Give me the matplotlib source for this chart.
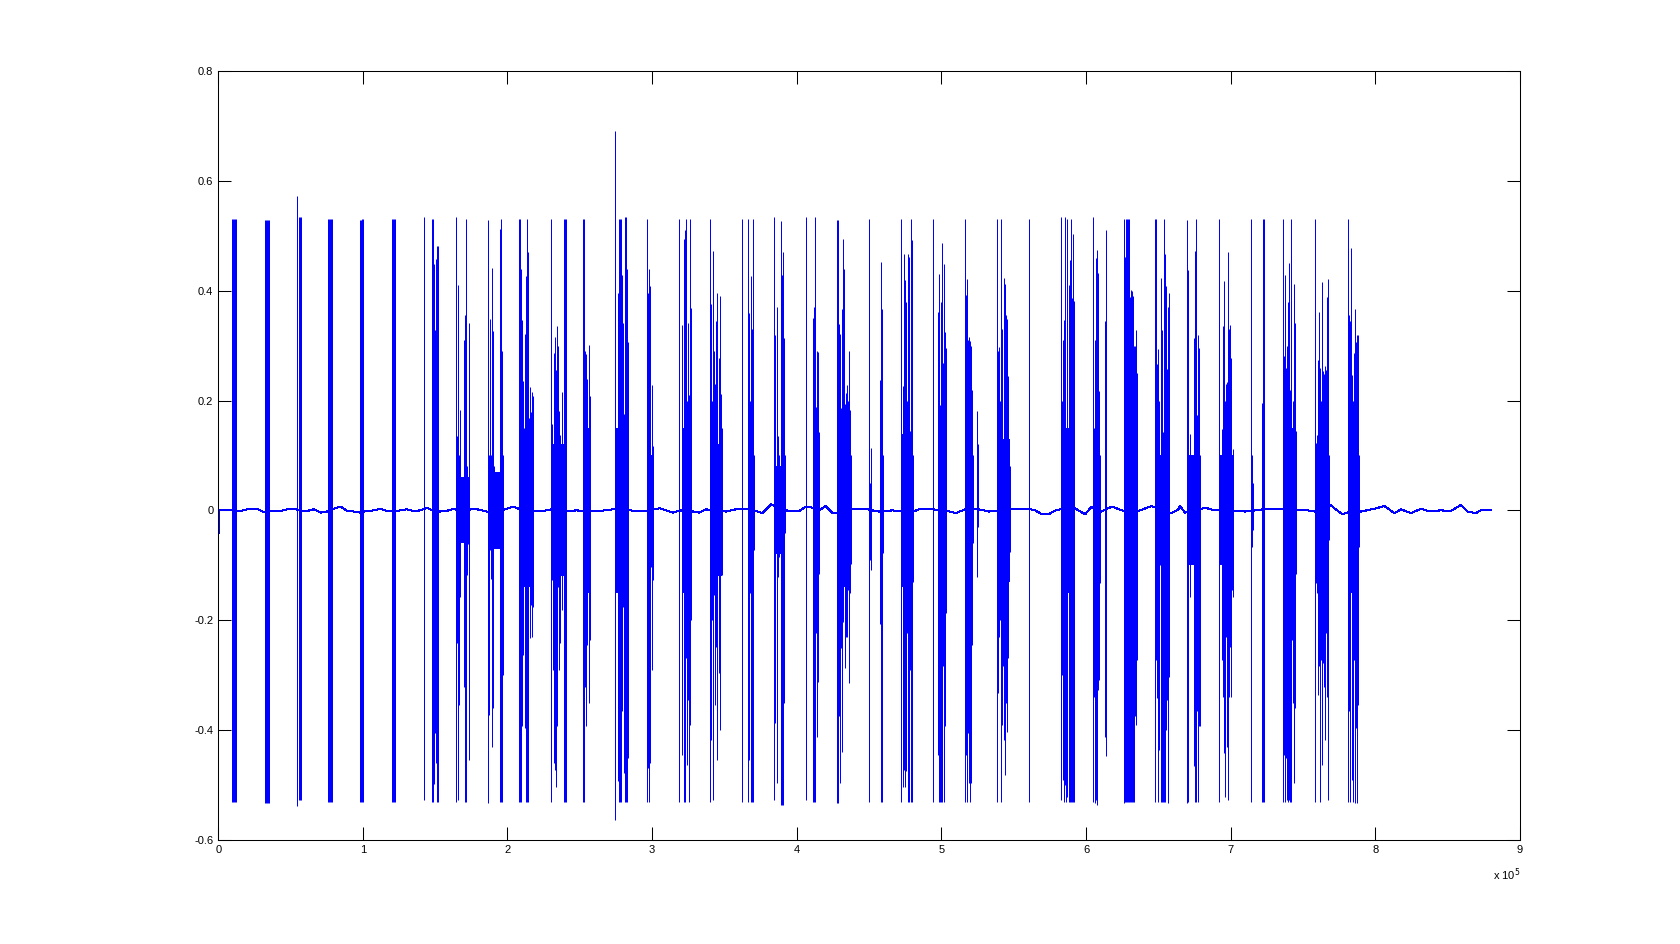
import matplotlib
matplotlib.use("Agg")
import matplotlib.pyplot as plt
import numpy as np

# szybkie uderzenia sygnalu: (probka, szczyt gorny, szczyt dolny), jeden wiersz na jeden wybuch
spikes = [
    (9800, .531, -.530), (10500, .531, -.530), (11200, .531, -.530), (11800, .531, -.530), (12500, .531, -.530),
    (32100, .529, -.533), (32800, .529, -.533), (33400, .529, -.533), (34100, .529, -.533), (34800, .529, -.533),
    (54200, .573, -.539), (54800, .534, -.528), (55500, .534, -.528), (56200, .534, -.528), (56900, .534, -.528),
    (76200, .531, -.530), (76900, .531, -.530), (77600, .531, -.530), (78300, .531, -.530), (79000, .531, -.530),
    (98300, .529, -.531), (99000, .529, -.531), (99700, .531, -.531), (100300, .531, -.531),
    (120400, .531, -.531), (121000, .531, -.531), (121700, .531, -.531), (122400, .531, -.531),
    (142400, .534, -.528),
    (147900, .530, -.531), (148600, .530, -.531), (149300, .448, -.498), (150000, .328, -.405),
    (150700, .457, -.459), (151400, .482, -.530), (152100, .482, -.530),
    (164500, .534, -.530), (165200, .135, -.242), (165900, .411, -.528), (166600, .10, -.354),
    (167200, .182, -.157), (170000, .311, -.322), (170700, .355, -.531), (171400, .530, -.531),
    (172100, .08, -.118), (172800, .06, -.062), (173500, .342, -.454),
    (186600, .528, -.533), (187200, .10, -.372), (187900, .348, -.072), (188600, .10, -.124),
    (189300, .442, -.430), (190000, .326, -.359), (190700, .08, -.045), (195100, .512, -.531),
    (195800, .530, -.531), (196400, .290, -.531), (197100, .10, -.300),
    (207900, .531, -.530), (208600, .531, -.530), (209300, .439, -.530), (210000, .346, -.393),
    (210700, .235, -.264), (211400, .15, -.072), (212100, .322, -.396), (212800, .426, -.530),
    (213400, .531, -.530), (214100, .470, -.530), (214800, .168, -.130), (215500, .224, -.233),
    (216200, .179, -.172), (216900, .215, -.230), (217600, .208, -.175),
    (230000, .531, -.530), (230700, .157, -.127), (231400, .12, -.290), (232100, .286, -.460),
    (232800, .315, -.472), (233400, .255, -.503), (234100, .335, -.393), (234800, .300, -.139),
    (235500, .181, -.290), (236200, .137, -.242), (236900, .10, -.030), (237600, .215, -.181),
    (238300, .120, -.042), (239000, .530, -.531), (239700, .530, -.531), (240300, .530, -.531),
    (252100, .530, -.531), (252800, .530, -.531), (253500, .291, -.322), (254100, .284, -.393),
    (254800, .240, -.245), (256200, .302, -.351), (256900, .208, -.236),
    (274100, .691, -.564), (276200, .395, -.493), (276900, .531, -.530), (277600, .531, -.530),
    (278300, .531, -.530), (279000, .428, -.366), (279700, .342, -.175), (280300, .175, -.478),
    (281000, .534, -.530), (281700, .534, -.530), (282400, .440, -.530), (283100, .306, -.451),
    (296200, .531, -.530), (296900, .395, -.469), (297600, .440, -.530), (298300, .408, -.460),
    (299000, .10, -.103), (299700, .228, -.290), (300300, .117, -.127),
    (318300, .531, -.530), (321000, .337, -.445), (321700, .495, -.531), (322400, .510, -.531),
    (323100, .531, -.269), (323800, .20, -.463), (324500, .342, -.345), (325100, .315, -.287),
    (325800, .210, -.530), (326500, .531, -.390), (327200, .368, -.20),
    (340300, .531, -.530), (341000, .375, -.418), (341700, .20, -.20), (342400, .473, -.528),
    (343100, .290, -.154), (343800, .230, -.354), (344500, .344, -.248), (345200, .395, -.454),
    (345900, .277, -.296), (346600, .391, -.400), (347300, .212, -.084), (348000, .15, -.118),
    (348600, .10, -.048),
    (362400, .531, -.530), (366600, .531, -.530), (367300, .359, -.454), (368000, .20, -.151),
    (368600, .426, -.531), (369300, .331, -.531), (370000, .530, -.531), (370700, .10, -.072),
    (384500, .534, -.527), (385200, .319, -.387), (386600, .371, -.497), (387200, .135, -.121),
    (387900, .10, -.084), (389300, .526, -.536), (390000, .428, -.536), (390700, .470, -.536),
    (391400, .313, -.351), (392100, .10, -.042),
    (406600, .534, -.527), (411400, .350, -.530), (412100, .371, -.530), (412800, .534, -.530),
    (413500, .188, -.224), (414200, .291, -.412), (414800, .288, -.312), (415500, .142, -.115),
    (427900, .528, -.533), (428600, .528, -.533), (429300, .339, -.375), (430000, .322, -.497),
    (430700, .186, -.251), (431400, .366, -.439), (432100, .495, -.203), (432800, .439, -.048),
    (433400, .193, -.287), (434100, .213, -.230), (434800, .228, -.230), (435500, .20, -.145),
    (436200, .291, -.315), (436900, .182, -.151), (437600, .10, -.097),
    (450000, .530, -.530), (450700, .05, -.090), (451400, .113, -.109), (457600, .237, -.206),
    (458300, .453, -.530), (459000, .366, -.530), (459700, .10, -.078),
    (472100, .530, -.530), (473500, .226, -.503), (474100, .466, -.472), (474800, .420, -.503),
    (475500, .380, -.475), (476200, .20, -.224), (476900, .466, -.530), (477600, .461, -.530),
    (478300, .144, -.290), (479000, .531, -.531), (479700, .493, -.531), (480300, .10, -.130),
    (494100, .531, -.531), (497600, .362, -.445), (498300, .431, -.530), (499000, .191, -.530),
    (499700, .380, -.530), (500300, .486, -.530), (501000, .268, -.284), (501700, .448, -.530),
    (502400, .324, -.393), (503100, .295, -.187),
    (516200, .531, -.530), (516900, .393, -.445), (517600, .422, -.530), (518300, .311, -.406),
    (519000, .315, -.497), (519700, .308, -.530), (520300, .299, -.497), (521000, .219, -.245),
    (521700, .10, -.060), (524500, .181, -.121), (525200, .120, -.03),
    (538300, .531, -.530), (539000, .290, -.333), (539700, .297, -.230), (540300, .20, -.20),
    (541000, .531, -.530), (541700, .331, -.390), (542400, .130, -.284), (543100, .424, -.418),
    (543800, .413, -.481), (544500, .355, -.351), (545200, .348, -.403), (545900, .244, -.269),
    (546600, .10, -.100), (547200, .08, -.075),
    (560300, .531, -.530),
    (582400, .534, -.527), (583100, .20, -.30), (583800, .311, -.490), (584500, .346, -.530),
    (585200, .534, -.500), (585900, .119, -.530), (586600, .531, -.487), (587200, .437, -.521),
    (587900, .411, -.530), (588600, .455, -.530), (589300, .530, -.530), (590000, .386, -.530),
    (590700, .504, -.530), (591400, .382, -.531),
    (604500, .534, -.530), (605200, .15, -.339), (605900, .310, -.533), (606600, .459, -.527),
    (607200, .20, -.497), (607900, .475, -.536), (608600, .433, -.327), (609300, .217, -.309),
    (610000, .10, -.133), (612800, .344, -.412), (613500, .510, -.448),
    (626600, .530, -.533), (627300, .461, -.531), (627900, .531, -.531), (628600, .531, -.531),
    (629300, .531, -.531), (630000, .531, -.531), (630700, .388, -.531), (631400, .402, -.531),
    (632100, .400, -.531), (632800, .391, -.531), (633400, .30, -.530), (634100, .299, -.375),
    (634800, .328, -.390), (635500, .251, -.272),
    (647900, .531, -.530), (648600, .531, -.272), (649300, .266, -.342), (650000, .293, -.530),
    (650700, .20, -.436), (651400, .10, -.10), (652100, .424, -.530), (652800, .329, -.530),
    (653400, .142, -.530), (654100, .531, -.530), (654800, .466, -.530), (655500, .408, -.400),
    (656200, .257, -.345), (656900, .370, -.533), (657600, .395, -.303),
    (670000, .528, -.533), (670700, .437, -.530), (671400, .10, -.05), (672100, .140, -.157),
    (674800, .313, -.466), (675500, .473, -.530), (676200, .531, -.530), (676900, .173, -.366),
    (677600, .320, -.530), (678300, .295, -.393), (679000, .10, -.393),
    (692100, .531, -.530), (692800, .10, -.054), (693400, .10, -.084), (694100, .148, -.272),
    (694800, .335, -.339), (695500, .417, -.442), (696200, .20, -.521), (696900, .231, -.230),
    (697600, .233, -.430), (698300, .471, -.527), (699000, .331, -.339), (699700, .337, -.248),
    (700300, .277, -.339), (701000, .10, -.145), (701700, .111, -.157),
    (714100, .531, -.530), (714800, .10, -.066), (715500, .05, -.036),
    (721700, .195, -.530), (722400, .531, -.530), (723100, .531, -.530),
    (736200, .531, -.530), (736900, .281, -.445), (737600, .428, -.530), (738300, .260, -.451),
    (739000, .30, -.527), (739700, .380, -.530), (740300, .450, -.527), (741000, .219, -.530),
    (741700, .531, -.530), (742400, .130, -.236), (743100, .20, -.351), (743800, .413, -.497),
    (744500, .342, -.360), (745200, .144, -.115),
    (758300, .530, -.530), (759000, .122, -.133), (759700, .138, -.151), (760300, .273, -.336),
    (761000, .362, -.284), (761700, .259, -.530), (762400, .20, -.272), (763100, .415, -.463),
    (763800, .253, -.278), (764500, .248, -.322), (765200, .262, -.418), (765900, .255, -.224),
    (766600, .388, -.339), (767200, .422, -.527), (767900, .10, -.054),
    (781000, .530, -.530), (781700, .355, -.366), (782400, .344, -.531), (783100, .477, -.115),
    (783800, .246, -.490), (784500, .20, -.530), (785200, .286, -.272), (785900, .366, -.533),
    (786600, .306, -.396), (787200, .319, -.533), (787900, .319, -.354), (788600, .10, -.066),
]

# gesty rdzen kazdego wybuchu (poczatek, koniec, amplituda wypelnienia)
burst_start = [147900, 164500, 186600, 207900, 230000, 252100, 274100, 296200, 321000, 340300,
               366600, 384500, 411400, 427900, 457600, 472100, 497600, 516200, 538300, 582400,
               604500, 626600, 647900, 670000, 692100, 736200, 758300, 781000]
burst_end = [152100, 173500, 197100, 217600, 240300, 256900, 283100, 300300, 327200, 348600,
             370700, 392100, 415500, 437600, 459700, 480300, 503100, 521700, 547200, 591400,
             610000, 635500, 657600, 679000, 701700, 745200, 767900, 788600]
burst_core = [0.15, 0.06, 0.07, 0.14, 0.12, 0.15, 0.15, 0.10, 0.15, 0.12,
              0.13, 0.08, 0.11, 0.14, 0.10, 0.14, 0.15, 0.15, 0.13, 0.15,
              0.12, 0.15, 0.10, 0.10, 0.10, 0.15, 0.12, 0.15]

# wolnozmienne tlo sygnalu miedzy uderzeniami
baseline_x = [
    0, 700, 10900, 15500, 20100, 27000, 31600, 36200, 43100, 47700, 52300, 56900, 61500, 66100,
    70700, 75300, 79900, 84500, 89100, 93700, 98300, 102900, 107500, 112100, 116700, 121300,
    125900, 130500, 135100, 139700, 144300, 148800, 153400, 158000, 162600, 167200, 171900,
    176400, 181000, 185600, 190200, 194800, 199400, 204000, 208600, 213200, 217800, 227000,
    231600, 240800, 247700, 254600, 259200, 263800, 273000, 282200, 286800, 296000, 305200,
    314400, 319000, 325900, 332800, 337400, 341900, 351100, 358000, 364900, 371800, 376400,
    382200, 385600, 392500, 397100, 401700, 406300, 410900, 415500, 420100, 424700, 429300,
    438500, 447700, 452300, 456900, 466100, 475300, 479900, 484500, 493700, 502900, 509800,
    516700, 525900, 532800, 539700, 548800, 560300, 564900, 569500, 574100, 578800, 590200,
    594800, 599400, 604000, 608600, 617800, 627000, 636200, 645400, 650000, 659200, 663800,
    665000, 668400, 675300, 682200, 689100, 696000, 702900, 709800, 716700, 725900, 735100,
    744300, 753400, 758100, 762700, 768400, 774100, 777600, 783300, 790200, 799400, 806300,
    813200, 817800, 824700, 831600, 836200, 845400, 852300, 859200, 863800, 869500, 873000,
    879900,
]
baseline_y = [
    -0.057, 0.000, 0.000, -0.001, 0.002, 0.003, -0.003, -0.001, -0.001, 0.002, 0.003, 0.000, -0.001, 0.002,
    -0.004, -0.002, 0.003, 0.007, -0.001, -0.002, -0.004, -0.001, 0.000, 0.003, -0.001, -0.002,
    0.000, 0.002, -0.001, 0.000, 0.005, -0.001, -0.002, -0.001, 0.003, -0.001, 0.000,
    0.003, 0.001, -0.002, -0.007, -0.001, 0.003, 0.007, 0.002, -0.001, -0.002, 0.000,
    0.003, -0.001, 0.000, -0.001, -0.001, -0.001, 0.002, 0.002, -0.001, -0.001, 0.004,
    -0.004, 0.000, -0.001, -0.004, 0.002, -0.001, -0.002, 0.002, 0.003, -0.001, -0.005,
    0.011, 0.007, 0.000, -0.001, -0.001, 0.007, 0.005, 0.000, 0.008, -0.005, -0.005,
    0.002, 0.003, 0.000, -0.002, 0.000, -0.002, -0.003, 0.002, 0.002, 0.000, -0.005,
    0.002, 0.002, -0.002, 0.000, 0.002, 0.003, 0.000, -0.007, -0.007, 0.000, 0.007,
    0.000, -0.007, 0.007, -0.005, 0.007, -0.002, -0.001, 0.008, 0.003, -0.005, 0.002,
    0.008, -0.004, -0.001, 0.005, 0.000, 0.002, -0.001, -0.002, 0.000, 0.003, 0.003,
    0.000, 0.000, -0.002, 0.000, 0.011, -0.001, -0.007, -0.001, -0.002, 0.003, 0.008,
    -0.005, 0.002, -0.005, 0.003, -0.001, 0.000, -0.001, 0.010, -0.002, -0.005, 0.000,
    0.000,
]

x_ticks = [0, 100000, 200000, 300000, 400000, 500000, 600000, 700000, 800000, 900000]
x_tick_labels = ['0', '1', '2', '3', '4', '5', '6', '7', '8', '9']
y_ticks = [-0.6, -0.4, -0.2, 0.0, 0.2, 0.4, 0.6, 0.8]
y_tick_labels = ['-0.6', '-0.4', '-0.2', '0', '0.2', '0.4', '0.6', '0.8']

plt.rcParams['font.family'] = ['Liberation Sans', 'DejaVu Sans']

fig = plt.figure(figsize=(16.8, 9.44), dpi=100)
fig.patch.set_facecolor('white')
ax = fig.add_axes([0.1299, 0.1102, 0.7748, 0.8146])

"""Tlo sygnalu, rdzenie wybuchow i pojedyncze uderzenia"""
blue = '#0000ff'
ax.plot(baseline_x, baseline_y, color=blue, lw=0.75, antialiased=False)
core = np.array(burst_core)
ax.bar(burst_start, 2 * core, width=np.array(burst_end) - np.array(burst_start), bottom=-core,
       align='edge', color=blue, linewidth=0)
spike_x = [s[0] for s in spikes]
spike_top = [s[1] for s in spikes]
spike_bottom = [s[2] for s in spikes]
ax.vlines(spike_x, spike_bottom, spike_top, colors=blue, lw=0.72, antialiased=True)

"""Ustawienia osi w stylu MATLAB-a"""
ax.set_xlim(0, 900000)
ax.set_ylim(-0.6, 0.8)
ax.set_xticks(x_ticks)
ax.set_xticklabels(x_tick_labels)
ax.set_yticks(y_ticks)
ax.set_yticklabels(y_tick_labels)
ax.tick_params(direction='in', length=9.5, width=0.75, top=True, right=True,
               labelsize=8, pad=3.5, colors='black')
for spine in ax.spines.values():
    spine.set_linewidth(0.75)
    spine.set_color('black')

ax.text(1.0, -0.056, r'x 10$^{5}$', transform=ax.transAxes, ha='right', va='bottom', fontsize=8)

fig.savefig('out.png', dpi=100, facecolor='white')
